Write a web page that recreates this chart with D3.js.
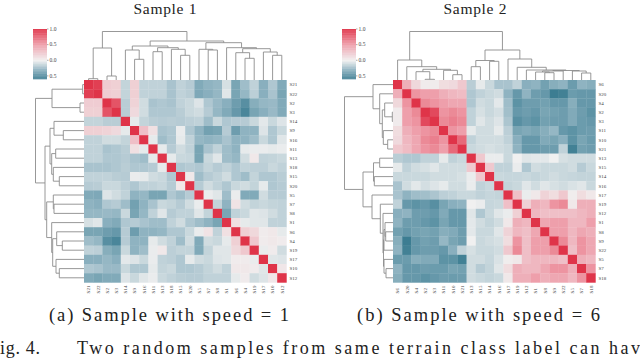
<!DOCTYPE html>
<html><head><meta charset="utf-8">
<script src="https://cdn.jsdelivr.net/npm/d3@7"></script>
<style>html,body{margin:0;padding:0;background:#fff;overflow:hidden}svg{display:block}text{font-family:"Liberation Serif",serif;fill:#222}</style>
</head><body><svg id="c" width="640" height="359"></svg>
<script>
const labels1=["S21","S22","S2","S3","S14","S9","S16","S11","S13","S18","S15","S20","S5","S7","S8","S1","S6","S4","S19","S17","S10","S12"];
const labels2=["S6","S20","S4","S2","S3","S11","S10","S21","S13","S15","S14","S16","S17","S19","S12","S1","S8","S9","S22","S5","S7","S18"];
// upper triangles, each row starts at its diagonal
const upper1=[
[1,.95,.22,.2,-.14,.2,-.15,-.15,-.15,-.22,-.15,-.18,-.35,-.3,-.28,-.08,-.38,-.25,-.15,-.32,-.2,-.35],
[1,.22,.2,-.14,.2,-.15,-.15,-.15,-.22,-.15,-.17,-.36,-.32,-.28,-.05,-.38,-.28,-.16,-.32,-.22,-.38],
[1,.85,-.17,.18,-.1,-.22,-.2,-.22,-.15,-.12,-.06,-.2,-.27,-.32,-.42,-.5,-.33,-.28,-.27,-.35],
[1,-.17,.14,-.1,-.2,-.2,-.2,-.17,-.12,-.1,-.18,-.28,-.35,-.45,-.55,-.38,-.32,-.27,-.35],
[1,-.03,-.14,-.17,-.18,-.17,-.18,-.16,-.15,-.25,-.12,-.2,-.18,-.18,-.12,-.04,-.12,-.06],
[1,.3,.1,-.22,-.2,-.02,-.2,-.3,-.4,-.38,-.18,-.42,-.3,-.3,-.06,-.2,-.12],
[1,-.03,-.25,-.2,-.03,-.15,-.28,-.3,-.28,-.22,-.3,-.3,-.25,-.12,-.2,-.05],
[1,-.03,-.18,-.1,-.15,-.38,-.22,-.15,-.25,-.3,-.03,-.02,-.02,-.03,-.02],
[1,-.03,-.12,-.13,-.38,-.12,-.05,-.25,-.28,-.1,.05,-.15,-.14,-.12],
[1,-.2,-.18,-.2,-.14,-.18,-.15,-.2,-.15,-.16,-.16,-.12,-.15],
[1,.05,-.25,-.18,-.15,-.1,-.2,-.25,-.14,-.2,-.2,-.17],
[1,-.18,-.1,-.15,-.2,-.12,-.1,-.14,-.03,-.2,-.18],
[1,-.02,-.05,-.25,-.02,-.35,-.35,-.1,-.18,-.18],
[1,-.14,-.3,.08,-.1,-.14,-.12,-.14,-.15],
[1,-.38,-.15,-.12,-.05,-.06,-.1,-.15],
[1,.1,-.03,-.05,-.05,-.15,-.15],
[1,.2,.15,.03,.05,-.03],
[1,.25,.03,.05,.03],
[1,-.02,.03,-.1],
[1,-.05,-.06],
[1,.06],
[1]];
const upper2=[
[1,.4,.15,.03,.03,.12,.14,.25,-.17,-.03,-.12,-.22,-.22,-.15,-.32,-.3,-.4,-.33,-.3,-.43,-.3,-.33],
[1,.55,.5,.5,.4,.35,.32,-.2,-.15,-.12,-.1,-.3,-.45,-.3,-.42,-.45,-.6,-.58,-.43,-.45,-.45],
[1,.6,.55,.5,.45,.45,-.2,-.1,-.12,-.04,-.25,-.48,-.42,-.42,-.4,-.45,-.45,-.33,-.45,-.45],
[1,.9,.55,.6,.55,-.15,-.08,-.12,-.09,-.24,-.45,-.42,-.45,-.38,-.4,-.42,-.35,-.42,-.48],
[1,.6,.65,.6,-.15,-.05,-.1,-.06,-.21,-.5,-.45,-.48,-.4,-.42,-.42,-.35,-.43,-.45],
[1,.55,.5,-.03,-.1,-.1,-.03,-.16,-.38,-.35,-.38,-.33,-.28,-.45,-.48,-.43,-.42],
[1,.75,-.15,-.1,-.1,-.1,-.15,-.32,-.45,-.45,-.35,-.38,-.32,-.48,-.38,-.43],
[1,-.12,-.1,-.08,-.1,-.12,-.3,-.45,-.45,-.42,-.42,-.15,-.58,-.4,-.42],
[1,.25,-.02,-.02,-.12,0,-.05,-.04,-.04,0,-.08,-.1,-.1,-.1],
[1,.25,-.15,-.15,-.02,-.2,-.1,-.12,-.12,-.12,-.1,-.18,-.12],
[1,-.12,-.13,-.13,-.12,-.14,-.12,-.1,-.12,-.13,-.14,-.14],
[1,-.14,-.12,-.05,-.1,-.05,-.08,-.1,-.07,-.05,-.12],
[1,.3,-.02,.05,.18,.12,.25,.02,.12,.05],
[1,.2,.4,.35,.55,.6,.05,.4,.4],
[1,.35,.3,.3,.3,.3,.35,.4],
[1,.45,.5,.5,.35,.35,.5],
[1,.5,.5,.35,.45,.4],
[1,.6,.35,.55,.45],
[1,.3,.55,.45],
[1,.4,.35],
[1,.55],
[1]];
// dendrograms: [merge distance, left, right]
const tree1=[48.5,
 [32,[1.3,"S21","S22"],[4,"S2","S3"]],
 [39,
  [34,
   [30,"S14",[20.7,"S9","S16"]],
   [32.3,[28.3,"S11","S13"],[30.7,"S18",[24.7,"S15","S20"]]]],
  [37.3,
   [30.7,"S5",[30,"S7","S8"]],
   [32.3,"S1",[31.3,
     [27.3,"S6",[21.7,"S4","S19"]],
     [28,"S17",[24.7,"S10","S12"]]]]]]];
const tree2=[48.5,
 [20,"S6",[13.3,"S20",[10.7,
    [8.3,"S4",[.7,"S2","S3"]],
    [9.7,"S11",[5.3,"S10","S21"]]]]],
 [30,
  [19.5,[13.3,"S13","S15"],[18.7,"S14","S16"]],
  [21,"S17",[12.7,"S19",[10,"S12",[9.5,
     [9,[8,"S1",[7.3,"S8","S9"]],"S22"],
     [9,"S5",[7,"S7","S18"]]]]]]]];
const cbTicks=[1,.5,0,-.5];
const titles=["Sample 1","Sample 2"];
const captions=["(a) Sample with speed = 1","(b) Sample with speed = 6"];
const footerA="ig. 4.";
const footerB="Two random samples from same terrain class label can hav";

const color=d3.scaleLinear().domain([-.6,-.3,0,.5,1])
 .range(["#3c7d92","#8fb3c1","#f0f0f0","#ee9fab","#df3449"]);
const svg=d3.select("#c");

function panel(x0,labels,upper,tree,title,caption,titleX,capX,capLen){
 const y0=80,size=202.4,dTop=49;
 const g=svg.append("g");
 const bx=d3.scaleBand().domain(labels).range([x0,x0+size]);
 const by=d3.scaleBand().domain(labels).range([y0,y0+size]);
 const cells=[];
 upper.forEach((row,i)=>row.forEach((v,k)=>{
   const j=i+k;
   cells.push({r:labels[i],c:labels[j],v});
   if(i!==j)cells.push({r:labels[j],c:labels[i],v});
 }));
 g.selectAll("rect.cell").data(cells).join("rect").attr("class","cell")
  .attr("x",d=>bx(d.c)).attr("y",d=>by(d.r))
  .attr("width",bx.bandwidth()+.3).attr("height",by.bandwidth()+.3)
  .attr("fill",d=>color(d.v));
 // dendrograms
 const root=d3.hierarchy(tree,d=>Array.isArray(d)?d.slice(1):null);
 const hTop=d3.scaleLinear().domain([0,49]).range([y0,y0-dTop]);
 const hLeft=d3.scaleLinear().domain([0,49]).range([x0,x0-dTop]);
 root.eachAfter(n=>{
   if(n.children){n.h=n.data[0];n.p=d3.mean(n.children,k=>k.p);}
   else{n.h=0;n.p=bx(n.data)+bx.bandwidth()/2-x0;}
 });
 const paths=root.descendants().filter(n=>n.children);
 const line=d3.line();
 g.selectAll("path.top").data(paths).join("path").attr("class","top")
  .attr("d",n=>{const[a,b]=n.children;return line([[x0+a.p,hTop(a.h)],[x0+a.p,hTop(n.h)],[x0+b.p,hTop(n.h)],[x0+b.p,hTop(b.h)]]);})
  .attr("fill","none").attr("stroke","#8c8c8c").attr("stroke-width",.9);
 g.selectAll("path.left").data(paths).join("path").attr("class","left")
  .attr("d",n=>{const[a,b]=n.children;return line([[hLeft(a.h),y0+a.p],[hLeft(n.h),y0+a.p],[hLeft(n.h),y0+b.p],[hLeft(b.h),y0+b.p]]);})
  .attr("fill","none").attr("stroke","#8c8c8c").attr("stroke-width",.9);
 // labels
 g.selectAll("text.rl").data(labels).join("text").attr("class","rl")
  .attr("x",x0+size+3).attr("y",d=>by(d)+by.bandwidth()/2+1.7)
  .attr("font-size",5).attr("style","fill:#444").text(d=>d);
 g.selectAll("text.cl").data(labels).join("text").attr("class","cl")
  .attr("transform",d=>`translate(${bx(d)+bx.bandwidth()/2+1.7},${y0+size+11}) rotate(-90)`)
  .attr("font-size",5).attr("style","fill:#444").text(d=>d);
 // colour bar
 const cy=d3.scaleLinear().domain([-.6,1]).range([79,29]);
 const cbx=x0-51,cbw=14;
 g.selectAll("rect.cb").data(d3.range(-.6,1,.02)).join("rect").attr("class","cb")
  .attr("x",cbx).attr("width",cbw).attr("y",d=>cy(d+.02)).attr("height",d=>cy(d)-cy(d+.02)+.3)
  .attr("fill",d=>color(d+.01));
 g.selectAll("line.ct").data(cbTicks).join("line").attr("class","ct")
  .attr("x1",cbx+cbw).attr("x2",cbx+cbw+1.5)
  .attr("y1",d=>cy(d)).attr("y2",d=>cy(d)).attr("stroke","#555").attr("stroke-width",.5);
 g.selectAll("text.ctl").data(cbTicks).join("text").attr("class","ctl")
  .attr("x",cbx+cbw+2.5).attr("y",d=>cy(d)+1.8).attr("font-size",5.5).attr("style","fill:#444")
  .text(d=>d3.format(".1f")(Math.abs(d)));
 g.append("text").attr("x",titleX-31.5).attr("y",14.2)
  .attr("font-size",15.5).attr("textLength",63).attr("lengthAdjust","spacing").text(title);
 g.append("text").attr("x",capX).attr("y",321).attr("font-size",18.5)
  .attr("textLength",capLen).attr("lengthAdjust","spacing").text(caption);
}
panel(84,labels1,upper1,tree1,titles[0],captions[0],165,49,240);
panel(393,labels2,upper2,tree2,titles[1],captions[1],475,357,243);
svg.append("text").attr("x",0).attr("y",354).attr("font-size",18)
 .attr("textLength",40).attr("lengthAdjust","spacing").text(footerA);
svg.append("text").attr("x",77).attr("y",354).attr("font-size",18)
 .attr("textLength",563).attr("lengthAdjust","spacing").text(footerB);
</script></body></html>
